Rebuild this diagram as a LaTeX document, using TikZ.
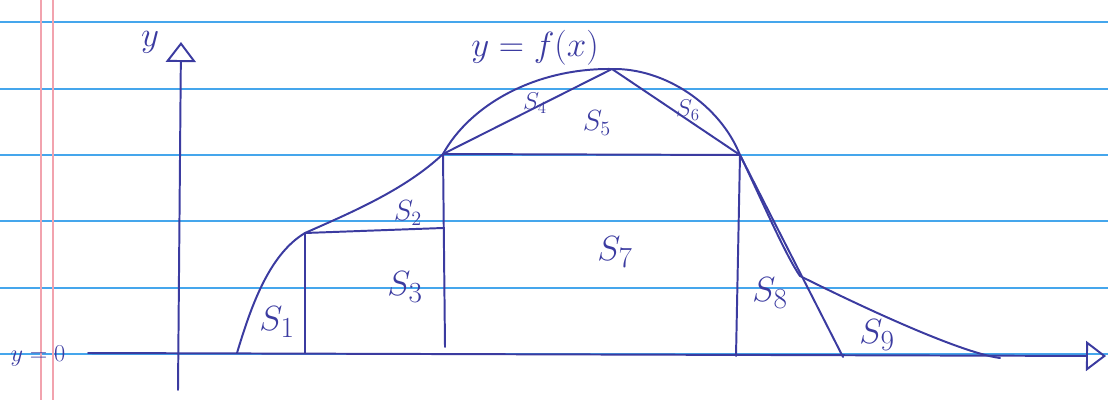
\documentclass[tikz,border=0pt]{standalone}
\usepackage{xcolor}
\usepackage{tikz}
\usetikzlibrary{arrows.meta,positioning,calc}
\definecolor{tinta}{HTML}{3B3BA0}
\definecolor{garisbuku}{HTML}{45A6EC}
\definecolor{tepimerah}{HTML}{F2A3AE}

\begin{document}
\begin{tikzpicture}[
  x=0.025cm, y=-0.025cm,
  ruled/.style={garisbuku, line width=2pt},
  tepi/.style={tepimerah, line width=1.6pt},
  pena/.style={draw=tinta, line width=1.4pt, line cap=round, line join=round},
  sumbu/.style={pena, -{Triangle[open, length=0.5cm, width=0.75cm]}},
  besar/.style={text=tinta, font=\fontsize{30}{32}\selectfont, inner sep=0pt},
  sedang/.style={text=tinta, font=\fontsize{22}{24}\selectfont, inner sep=0pt},
  kecil/.style={text=tinta, font=\fontsize{17}{19}\selectfont, inner sep=0pt}
]
  \useasboundingbox (0,0) rectangle (1108,400);
  % kertas bergaris
  \foreach \y in {22,89,155,221,288,354}
    \draw[ruled] (0,\y) -- (1108,\y);
  \draw[tepi] (41,0) -- (41,400);
  \draw[tepi] (53,0) -- (53,400);

  % titik penting
  \coordinate (O1) at (178,390);
  \coordinate (Y) at (181,42);
  \coordinate (X0) at (88,353);
  \coordinate (X) at (1106,356);
  \coordinate (F0) at (237,353);
  \coordinate (A) at (305,233);
  \coordinate (Ab) at (305,353);
  \coordinate (Ak) at (443,228);
  \coordinate (B) at (443,154);
  \coordinate (Bb) at (445,347);
  \coordinate (P) at (612,69);
  \coordinate (C) at (740,155);
  \coordinate (Cb) at (736,356);
  \coordinate (D) at (800,276);
  \coordinate (E) at (843,357);
  \coordinate (F1) at (1000,358);

  % sumbu
  \draw[sumbu] (O1) -- (Y);
  \draw[sumbu] (X0) -- (X);

  % kurva y = f(x)
  \draw[pena] (F0) .. controls (250,310) and (268,255) .. (A)
    .. controls (350,213) and (405,190) .. (B)
    .. controls (470,105) and (535,68) .. (P)
    .. controls (665,68) and (720,105) .. (C)
    .. controls (755,185) and (785,255) .. (D)
    .. controls (840,296) and (955,352) .. (F1);

  % pembagian daerah
  \draw[pena] (A) -- (Ab);
  \draw[pena] (A) -- (Ak);
  \draw[pena] (B) -- (Bb);
  \draw[pena] (B) -- (C);
  \draw[pena] (B) -- (P) -- (C);
  \draw[pena] (C) -- (Cb);
  \draw[pena] (C) -- (E);

  % label
  \node[besar] (ylab) at (150,42) {$y$};
  \node[kecil] (y0) at (38,356) {$y=0$};
  \node[besar] (fx) at (535,48) {$y=f(x)$};
  \node[besar] (s1) at (277,322) {$S_1$};
  \node[sedang] (s2) at (408,213) {$S_2$};
  \node[besar] (s3) at (405,287) {$S_3$};
  \node[kecil] (s4) at (535,103) {$S_4$};
  \node[sedang] (s5) at (597,123) {$S_5$};
  \node[kecil] (s6) at (688,110) {$S_6$};
  \node[besar] (s7) at (615,252) {$S_7$};
  \node[besar] (s8) at (770,293) {$S_8$};
  \node[besar] (s9) at (877,335) {$S_9$};
\end{tikzpicture}
\end{document}
